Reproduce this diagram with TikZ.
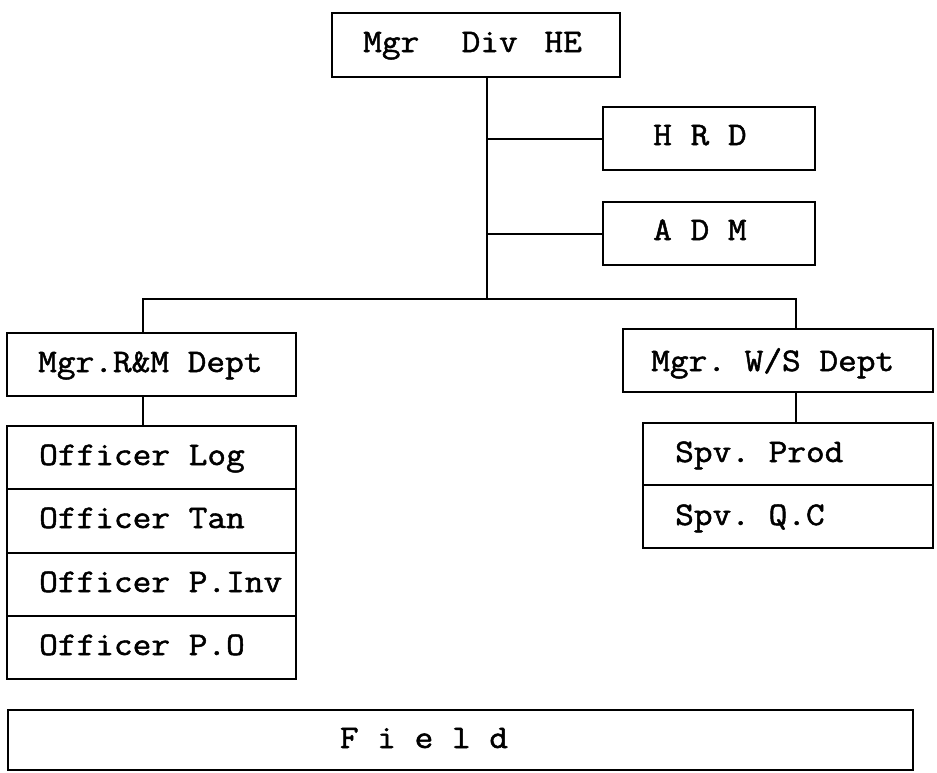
\documentclass[tikz,border=0pt]{standalone}
\usepackage{fontspec}
\setmonofont{Latin Modern Mono}[FakeStretch=1.1,FakeBold=1.5]
\begin{document}
\begin{tikzpicture}[x=1pt,y=-1pt,
  box/.style={draw, line width=2pt, inner sep=0pt},
  txt/.style={font=\ttfamily\fontsize{33}{33}\selectfont, inner sep=0pt, anchor=base west},
  conn/.style={line width=2pt}]
\useasboundingbox (0,0) rectangle (937,772);
% boxes
\node[box, minimum width=288pt, minimum height=64pt] (top) at (476,45) {};
\node[box, minimum width=212pt, minimum height=63pt] (hrd) at (709,138.5) {};
\node[box, minimum width=212pt, minimum height=63pt] (adm) at (709,233.5) {};
\node[box, minimum width=289pt, minimum height=63pt] (rm) at (151.5,364.5) {};
\node[box, minimum width=310pt, minimum height=63pt] (ws) at (778,360.5) {};
\node[box, minimum width=289pt, minimum height=63pt] (o1) at (151.5,457.5) {};
\node[box, minimum width=289pt, minimum height=64pt] (o2) at (151.5,521) {};
\node[box, minimum width=289pt, minimum height=63pt] (o3) at (151.5,584.5) {};
\node[box, minimum width=289pt, minimum height=63pt] (o4) at (151.5,647.5) {};
\node[box, minimum width=290pt, minimum height=62pt] (s1) at (788,454) {};
\node[box, minimum width=290pt, minimum height=63pt] (s2) at (788,516.5) {};
\node[box, minimum width=905pt, minimum height=60pt] (field) at (460.5,740) {};
% texts
\node[txt] (ttop) at (363,52) {Mgr\ \ \hspace{5pt}Div\ \hspace{8pt}HE};
\node[txt] (thrd) at (653,145) {H R D};
\node[txt] (tadm) at (653,240) {A D M};
\node[txt] (trm) at (38,372) {Mgr.R\&M Dept};
\node[txt] (tws) at (651,371) {Mgr. W/S Dept};
\node[txt] (to1) at (39,465) {Officer Log};
\node[txt] (to2) at (39,528) {Officer Tan};
\node[txt] (to3) at (39,592) {Officer P.Inv};
\node[txt] (to4) at (39,655) {Officer P.O};
\node[txt] (ts1) at (675,462) {Spv. Prod};
\node[txt] (ts2) at (675,525) {Spv. Q.C};
\node[txt, anchor=base] (tfield) at (424,748) {F i e l d};
% connectors
\coordinate (trunk) at (487,299);
\coordinate (lj) at (143,299);
\coordinate (rj) at (796,299);
\draw[conn] (top.south -| trunk) -- (trunk);
\draw[conn] (hrd.west -| trunk) -- (hrd.west);
\draw[conn] (adm.west -| trunk) -- (adm.west);
\draw[conn] (rm.north -| lj) -- (lj) -- (rj) -- (ws.north -| rj);
\draw[conn] (rm.south -| lj) -- (o1.north -| lj);
\draw[conn] (ws.south -| rj) -- (s1.north -| rj);
\end{tikzpicture}
\end{document}
